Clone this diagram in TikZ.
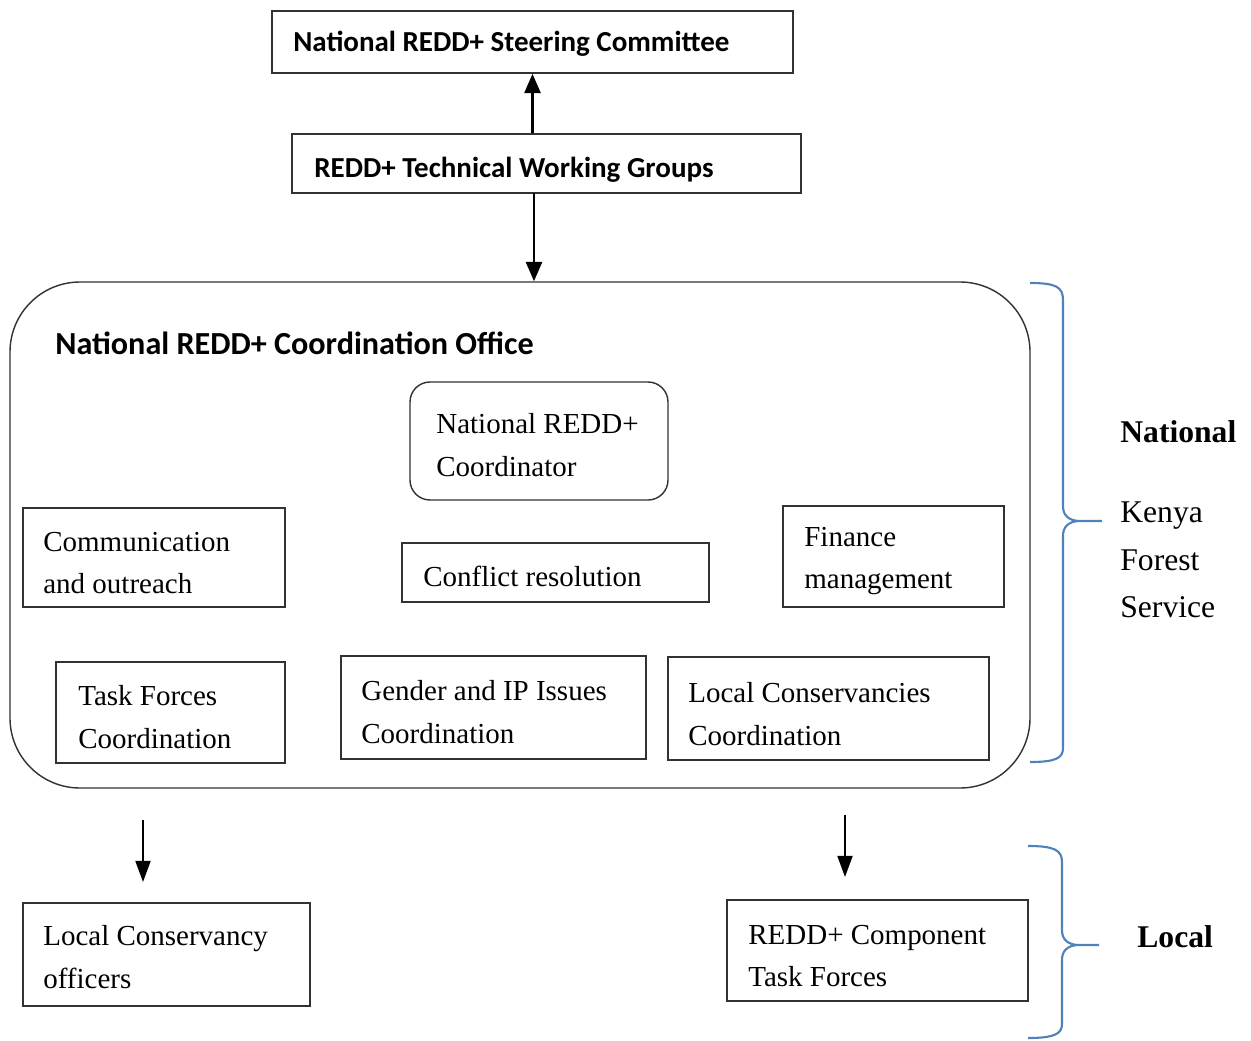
\documentclass[tikz,border=0pt]{standalone}
\usepackage{fontspec}
\setmainfont{Liberation Serif}
\newfontfamily\carlito{Carlito}
\usetikzlibrary{fit,arrows.meta}
\definecolor{bracecol}{RGB}{79,129,189}
\definecolor{boxcol}{RGB}{50,50,50}
\begin{document}
\begin{tikzpicture}[x=0.02cm,y=-0.02cm,
  box/.style={draw=boxcol, line width=0.8pt, inner sep=0pt},
  txt/.style={anchor=west, align=left, inner sep=0pt, font=\fontsize{16.5}{24}\selectfont},
  btxt/.style={anchor=west, inner sep=0pt, font=\carlito\bfseries\fontsize{16.5}{20}\selectfont},
  sidetxt/.style={anchor=west, align=left, inner sep=0pt, font=\fontsize{18}{27}\selectfont},
  bracepath/.style={draw=bracecol, line width=1.2pt},
  arr/.style={-{Triangle[length=11pt,width=9pt]}, line width=1.7pt},
  arrsm/.style={-{Triangle[length=12pt,width=8.5pt]}, line width=1.2pt}]
\useasboundingbox (0,0) rectangle (1251,1041);
\fill[white] (0,0) rectangle (1251,1041);

% top boxes
\node[box, fit={(272,11) (793,73)}] (sc) {};
\node[btxt] (sct) at (293,44) {National REDD+ Steering Committee};
\node[box, fit={(292,134) (801,193)}] (tw) {};
\node[btxt] (twt) at (314,170) {REDD+ Technical Working Groups};

% office
\node[box, rounded corners=1.4cm, fit={(10,282) (1030,788)}] (office) {};
\node[btxt, font=\carlito\bfseries\fontsize{18.3}{22}\selectfont] (offt) at (55,343) {National REDD+ Coordination Office};

\node[box, rounded corners=0.4cm, fit={(410,382) (668,500)}] (coord) {};
\node[txt] (coordt) at (436,445) {National REDD+\\Coordinator};

\node[box, fit={(23,508) (285,607)}] (comm) {};
\node[txt] (commt) at (43,563) {Communication\\and outreach};

\node[box, fit={(402,543) (709,602)}] (conf) {};
\node[txt] (conft) at (423,576) {Conflict resolution};

\node[box, fit={(783,506) (1004,607)}] (fin) {};
\node[txt] (fint) at (804,561) {Finance\\management};

\node[box, fit={(56,662) (285,763)}] (task) {};
\node[txt] (taskt) at (78,717) {Task Forces\\Coordination};

\node[box, fit={(341,656) (646,759)}] (gend) {};
\node[txt] (gendt) at (361,712) {Gender and IP Issues\\Coordination};

\node[box, fit={(668,657) (989,760)}] (lcc) {};
\node[txt] (lcct) at (688,714) {Local Conservancies\\Coordination};

% bottom boxes
\node[box, fit={(23,903) (310,1006)}] (lco) {};
\node[txt] (lcot) at (43,957) {Local Conservancy\\officers};

\node[box, fit={(727,900) (1028,1001)}] (ctf) {};
\node[txt] (ctft) at (748,956) {REDD+ Component\\Task Forces};

% connectors
\draw[arr] (tw.north -| sc.south) -- (sc.south);
\draw[arr] (534,193) coordinate (tws) -- (tws |- office.north);
\coordinate (a1s) at (143,820);
\coordinate (a1e) at (143,882);
\coordinate (a2s) at (845,815);
\coordinate (a2e) at (845,877);
\draw[arrsm] (a1s) -- (a1e);
\draw[arrsm] (a2s) -- (a2e);

% braces
\draw[bracepath] (1030,283) .. controls (1056,283) and (1063,287) .. (1063,300)
  -- (1063,506) .. controls (1063,515) and (1068,520) .. (1078,521) -- (1102,521);
\draw[bracepath] (1078,521) .. controls (1068,522) and (1063,527) .. (1063,536)
  -- (1063,748) .. controls (1063,758) and (1056,762) .. (1030,762);

\draw[bracepath] (1028,846) .. controls (1054,846) and (1062,850) .. (1062,862)
  -- (1062,930) .. controls (1062,939) and (1067,944) .. (1077,945) -- (1099,945);
\draw[bracepath] (1077,945) .. controls (1067,946) and (1062,951) .. (1062,960)
  -- (1062,1024) .. controls (1062,1034) and (1054,1038) .. (1028,1038);

\node[sidetxt, font=\bfseries\fontsize{18}{27}\selectfont] (nat) at (1120,432) {National};
\node[sidetxt] (kfs) at (1120,560) {Kenya\\Forest\\Service};
\node[sidetxt, font=\bfseries\fontsize{18}{27}\selectfont] (loc) at (1137,937) {Local};
\end{tikzpicture}
\end{document}
